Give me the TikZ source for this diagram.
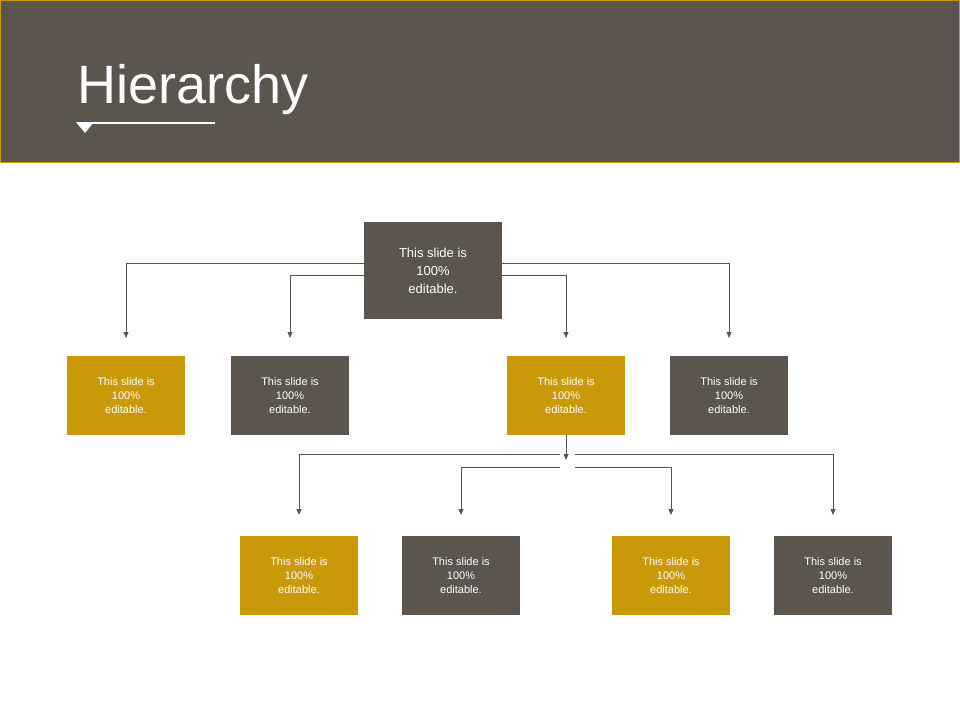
\documentclass[tikz,border=0pt]{standalone}
\usepackage{fontspec}
\setmainfont{Liberation Sans}
\usetikzlibrary{arrows.meta}
\definecolor{dk}{HTML}{5B554E}
\definecolor{gd}{HTML}{C9990A}
\begin{document}
\begin{tikzpicture}[x=1pt,y=-1pt,
 bx/.style={minimum width=118pt,minimum height=79pt,inner sep=0pt,text=white,align=center,font=\fontsize{11}{14}\selectfont},
 ln/.style={draw=dk,line width=0.8pt},
 ar/.style={ln,-{Triangle[width=5pt,length=6pt]}}]
\useasboundingbox (0,0) rectangle (960,720);
\fill[dk] (0,0) rectangle (960,162);
\draw[gd,line width=0.8pt] (0.4,0.4) rectangle (959.6,162);
\node[anchor=base west,text=white,font=\fontsize{54}{60}\selectfont,inner sep=0pt] (title) at (77,103) {Hierarchy};
\draw[white,line width=1.5pt] (77,123) -- (215,123);
\fill[white] (76,122) -- (94,122) -- (85,133) -- cycle;
\node[bx,fill=dk,minimum width=138pt,minimum height=97pt,font=\fontsize{13}{18}\selectfont] (top) at (433,270.5) {This slide is\\100\%\\editable.};
\node[bx,fill=gd] (a1) at (126,395.5) {This slide is\\100\%\\editable.};
\node[bx,fill=dk] (a2) at (290,395.5) {This slide is\\100\%\\editable.};
\node[bx,fill=gd] (a3) at (566,395.5) {This slide is\\100\%\\editable.};
\node[bx,fill=dk] (a4) at (729,395.5) {This slide is\\100\%\\editable.};
\node[bx,fill=gd] (b1) at (299,575.5) {This slide is\\100\%\\editable.};
\node[bx,fill=dk] (b2) at (461,575.5) {This slide is\\100\%\\editable.};
\node[bx,fill=gd] (b3) at (671,575.5) {This slide is\\100\%\\editable.};
\node[bx,fill=dk] (b4) at (833,575.5) {This slide is\\100\%\\editable.};
% top level connectors
\draw[ar] (top.west |- 0,263) -| (a1.north |- 0,338);
\draw[ar] (top.east |- 0,263) -| (a4.north |- 0,338);
\draw[ar] (top.west |- 0,275) -| (a2.north |- 0,338);
\draw[ar] (top.east |- 0,275) -| (a3.north |- 0,338);
% second level
\coordinate (j) at (566,460);
\draw[ar] (a3.south) -- (j);
\draw[ar] (560,454) -| (b1.north |- 0,515);
\draw[ar] (575,454) -| (b4.north |- 0,515);
\draw[ar] (560,467) -| (b2.north |- 0,515);
\draw[ar] (575,467) -| (b3.north |- 0,515);
\end{tikzpicture}
\end{document}
